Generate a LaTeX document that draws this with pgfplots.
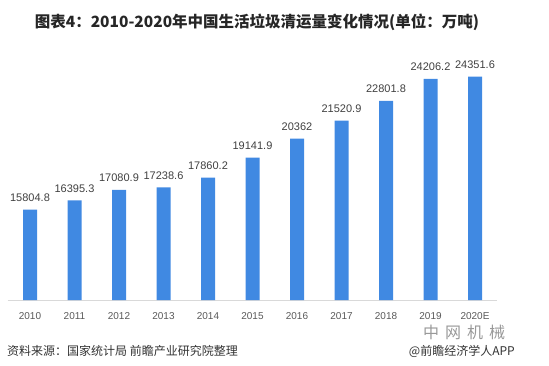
\documentclass[border=0pt]{standalone}
\usepackage{pgfplots}
\pgfplotsset{compat=1.18}
\usepackage{fontspec}
\setmainfont{Liberation Sans}
\newfontfamily\cjk{Noto Sans CJK SC}
\definecolor{barblue}{RGB}{64,137,226}
\definecolor{txt}{RGB}{64,64,64}
\definecolor{ticktxt}{RGB}{89,89,89}
\definecolor{axisgray}{RGB}{217,217,217}
\begin{document}
\begin{tikzpicture}[x=1pt,y=1pt]
\useasboundingbox (0,0) rectangle (549,365);
\begin{axis}[
  at={(7.75pt,65pt)}, anchor=south west,
  scale only axis, width=489.5pt, height=249pt,
  xmin=-0.5, xmax=10.5, ymin=10000, ymax=26000,
  axis x line*=bottom, axis y line=none,
  x axis line style={draw=axisgray, line width=1pt, -},
  xtick={0,...,10},
  xticklabels={2010,2011,2012,2013,2014,2015,2016,2017,2018,2019,2020E},
  major tick length=0pt,
  xticklabel style={anchor=base, yshift=-19pt, inner sep=0pt, font=\fontsize{10}{10}\selectfont, text=ticktxt},
  ybar, bar width=14pt,
  point meta=explicit symbolic,
  nodes near coords,
  every node near coord/.append style={anchor=base, yshift=8pt, inner sep=0pt, font=\fontsize{11}{11}\selectfont, text=txt},
  clip=false,
]
\addplot[fill=barblue, draw=none] coordinates {
  (0,15804.8) [15804.8]
  (1,16395.3) [16395.3]
  (2,17080.9) [17080.9]
  (3,17238.6) [17238.6]
  (4,17860.2) [17860.2]
  (5,19141.9) [19141.9]
  (6,20362) [20362]
  (7,21520.9) [21520.9]
  (8,22801.8) [22801.8]
  (9,24206.2) [24206.2]
  (10,24351.6) [24351.6]
};
\end{axis}
\node[anchor=center, text=black!85] at (257,343) {\fontsize{15.5}{16}\selectfont\cjk\bfseries 图表4：2010-2020年中国生活垃圾清运量变化情况(单位：万吨)};
\node[anchor=west, inner sep=0pt, text=black!80] at (7,14) {\fontsize{12}{12}\selectfont\cjk 资料来源：国家统计局 前瞻产业研究院整理};
\node[anchor=east, inner sep=0pt, text=black!80] at (515,14) {\fontsize{12}{12}\selectfont\cjk @前瞻经济学人APP};
\node[anchor=center, inner sep=0pt, text=black!40] at (464,33) {\fontsize{16}{16}\selectfont\cjk 中\hspace{6pt}网\hspace{6pt}机\hspace{6pt}械};
\end{tikzpicture}
\end{document}
